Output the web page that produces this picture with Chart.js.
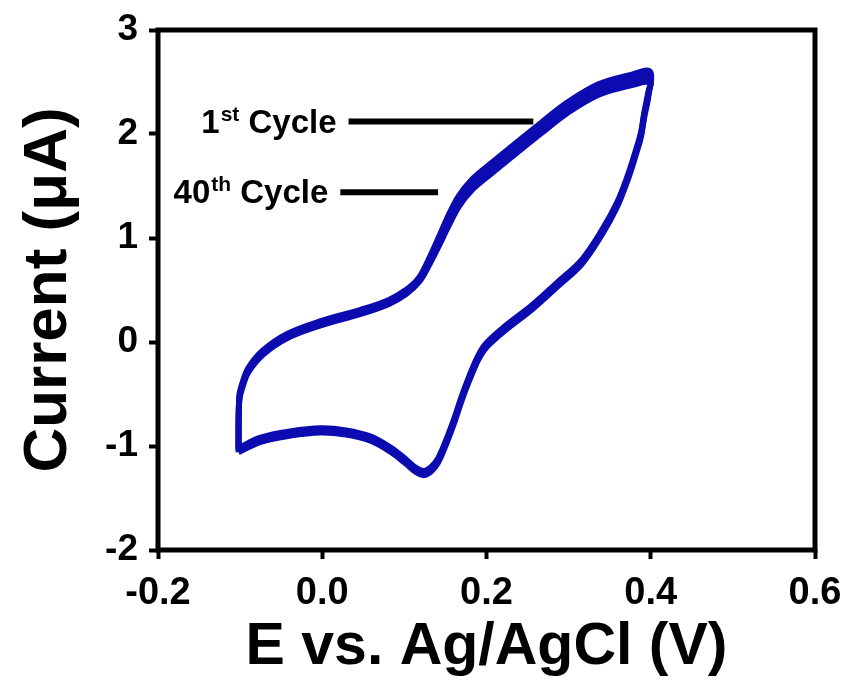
<!DOCTYPE html>
<html>
<head>
<meta charset="utf-8">
<script src="https://cdn.jsdelivr.net/npm/chart.js@4/dist/chart.umd.min.js"></script>
<style>
  html, body { margin: 0; padding: 0; background: #fff; }
  #wrap { width: 846px; height: 684px; }
</style>
</head>
<body>
<div id="wrap"><canvas id="cvChart" width="846" height="684"></canvas></div>
<script>
// potential (V vs Ag/AgCl), one loop: anodic scan then cathodic scan
var potential = [-0.102, -0.101, -0.097, -0.090, -0.072, -0.042, -0.002, 0.047, 0.080, 0.102,
                 0.118, 0.130, 0.141, 0.154, 0.166, 0.182, 0.206, 0.237, 0.267, 0.298,
                 0.337, 0.377, 0.399, 0.397, 0.392, 0.388, 0.381, 0.372, 0.359, 0.341,
                 0.316, 0.286, 0.255, 0.224, 0.200, 0.190, 0.179, 0.169, 0.161, 0.151,
                 0.141, 0.133, 0.124, 0.114, 0.102, 0.084, 0.059, 0.029, -0.002, -0.039,
                 -0.075, -0.102];

// current (uA) for a few cycles
var cycle1 = [-1.06, -0.52, -0.39, -0.25, -0.08, 0.08, 0.20, 0.31, 0.40, 0.50,
              0.62, 0.80, 0.99, 1.22, 1.40, 1.56, 1.72, 1.92, 2.11, 2.30,
              2.48, 2.57, 2.60, 2.36, 2.16, 1.97, 1.78, 1.56, 1.30, 1.04,
              0.75, 0.53, 0.31, 0.12, -0.05, -0.17, -0.37, -0.58, -0.77, -0.98,
              -1.16, -1.24, -1.28, -1.25, -1.17, -1.06, -0.95, -0.89, -0.87, -0.90,
              -0.96, -1.06];
var cycle20 = [-1.04, -0.54, -0.41, -0.27, -0.10, 0.06, 0.18, 0.29, 0.38, 0.48,
               0.60, 0.77, 0.95, 1.17, 1.35, 1.51, 1.67, 1.87, 2.06, 2.25,
               2.43, 2.52, 2.55, 2.38, 2.18, 1.99, 1.80, 1.58, 1.32, 1.06,
               0.77, 0.55, 0.33, 0.14, -0.03, -0.15, -0.35, -0.56, -0.75, -0.96,
               -1.14, -1.22, -1.26, -1.23, -1.15, -1.04, -0.93, -0.87, -0.85, -0.88,
               -0.94, -1.04];
var cycle40 = [-1.02, -0.56, -0.43, -0.29, -0.12, 0.04, 0.16, 0.27, 0.36, 0.46,
               0.58, 0.74, 0.91, 1.12, 1.30, 1.46, 1.62, 1.82, 2.01, 2.20,
               2.38, 2.47, 2.50, 2.40, 2.20, 2.01, 1.82, 1.60, 1.34, 1.08,
               0.79, 0.57, 0.35, 0.16, -0.01, -0.13, -0.33, -0.54, -0.73, -0.94,
               -1.12, -1.20, -1.24, -1.21, -1.13, -1.02, -0.91, -0.85, -0.83, -0.86,
               -0.92, -1.02];

var xTicks = [-0.2, 0.0, 0.2, 0.4, 0.6];
var yTicks = [-2, -1, 0, 1, 2, 3];

// cycle labels with leader lines (data units)
var labelMain = ['1', '40'];
var labelSup = ['st', 'th'];
var labelLineStart = [0.032, 0.022];
var labelLineEnd = [0.257, 0.141];
var labelLevel = [2.12, 1.44];

var FONT = '"Liberation Sans", Arial, sans-serif';
var BLUE = '#0b0bb0';

function toPoints(xs, ys) {
    return xs.map(function (x, i) { return { x: x, y: ys[i] }; });
}

function lineSet(label, ys) {
    return {
        label: label,
        data: toPoints(potential, ys),
        showLine: true,
        borderColor: BLUE,
        borderWidth: 6,
        pointRadius: 0,
        tension: 0.35,
        fill: false
    };
}

// thick frame round the plot area
var framePlugin = {
    id: 'frame',
    afterDatasetsDraw: function (chart) {
        var a = chart.chartArea, ctx = chart.ctx;
        ctx.save();
        ctx.strokeStyle = '#000';
        ctx.lineWidth = 5;
        ctx.strokeRect(a.left, a.top, a.right - a.left, a.bottom - a.top);
        ctx.restore();
    }
};

// "1st Cycle" / "40th Cycle" labels with lines
var cycleLabelPlugin = {
    id: 'cycleLabels',
    afterDatasetsDraw: function (chart) {
        var ctx = chart.ctx, xs = chart.scales.x, ys = chart.scales.y;
        ctx.save();
        for (var i = 0; i < labelMain.length; i++) {
            var x0 = xs.getPixelForValue(labelLineStart[i]);
            var x1 = xs.getPixelForValue(labelLineEnd[i]);
            var y = ys.getPixelForValue(labelLevel[i]);
            ctx.strokeStyle = '#000';
            ctx.lineWidth = 6;
            ctx.beginPath();
            ctx.moveTo(x0, y);
            ctx.lineTo(x1, y);
            ctx.stroke();

            var big = 'bold 33px ' + FONT, small = 'bold 21px ' + FONT;
            ctx.font = big;
            var wMain = ctx.measureText(labelMain[i]).width;
            var wRest = ctx.measureText(' Cycle').width;
            ctx.font = small;
            var wSup = ctx.measureText(labelSup[i]).width;
            var right = x0 - 12;
            var left = right - (wMain + wSup + wRest + 1);
            var base = y + 11;
            ctx.fillStyle = '#000';
            ctx.textBaseline = 'alphabetic';
            ctx.textAlign = 'left';
            ctx.font = big;
            ctx.fillText(labelMain[i], left, base);
            ctx.font = small;
            ctx.fillText(labelSup[i], left + wMain + 1, base - 12);
            ctx.font = big;
            ctx.fillText(' Cycle', left + wMain + wSup + 1, base);
        }
        ctx.restore();
    }
};

var ctx = document.getElementById('cvChart').getContext('2d');
var cvChart = new Chart(ctx, {
    type: 'scatter',
    data: {
        datasets: [lineSet('1st Cycle', cycle1), lineSet('20th Cycle', cycle20), lineSet('40th Cycle', cycle40)]
    },
    options: {
        responsive: false,
        animation: false,
        layout: { padding: { top: 30, right: 31, left: 0, bottom: 0 } },
        plugins: { legend: { display: false }, tooltip: { enabled: false } },
        scales: {
            x: {
                type: 'linear',
                min: -0.2,
                max: 0.6,
                afterBuildTicks: function (s) { s.ticks = xTicks.map(function (v) { return { value: v }; }); },
                afterFit: function (s) { s.height = 134; s.paddingLeft = 0; s.paddingRight = 0; },
                border: { display: false },
                grid: { drawOnChartArea: false, color: '#000', tickLength: 9, tickWidth: 4 },
                ticks: {
                    color: '#000',
                    padding: 12,
                    font: { family: FONT, size: 38, weight: 'bold' },
                    callback: function (v) { return Number(v).toFixed(1); }
                },
                title: {
                    display: true,
                    text: 'E vs. Ag/AgCl (V)',
                    color: '#000',
                    font: { family: FONT, size: 59, weight: 'bold' },
                    padding: { top: 0, bottom: 1 }
                }
            },
            y: {
                type: 'linear',
                min: -2,
                max: 3,
                afterBuildTicks: function (s) { s.ticks = yTicks.map(function (v) { return { value: v }; }); },
                afterFit: function (s) { s.width = 158; s.paddingTop = 0; s.paddingBottom = 0; },
                border: { display: false },
                grid: { drawOnChartArea: false, color: '#000', tickLength: 9, tickWidth: 4 },
                ticks: {
                    color: '#000',
                    padding: 11,
                    font: { family: FONT, size: 37, weight: 'bold' },
                    callback: function (v) { return String(v); }
                },
                title: {
                    display: true,
                    text: 'Current (μA)',
                    color: '#000',
                    font: { family: FONT, size: 62, weight: 'bold' },
                    padding: { top: 12, bottom: 0 }
                }
            }
        }
    },
    plugins: [framePlugin, cycleLabelPlugin]
});
</script>
</body>
</html>
